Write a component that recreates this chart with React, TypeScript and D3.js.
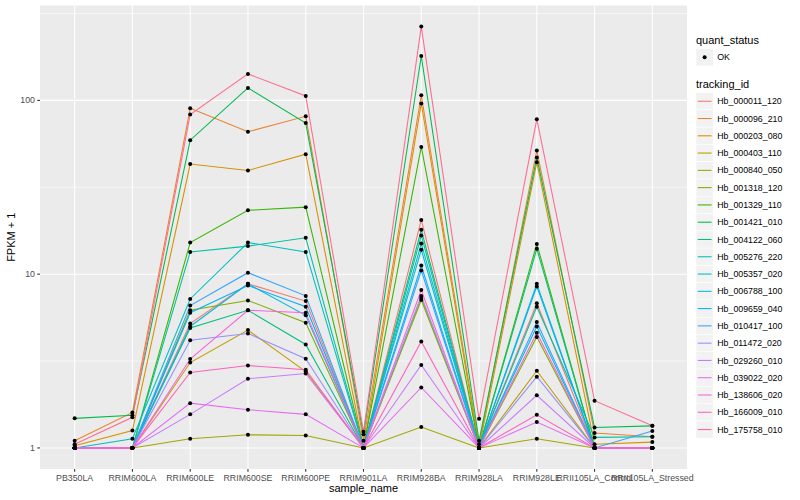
import { useEffect } from 'react';
import * as d3 from 'd3';

const samples = [
  'PB350LA', 'RRIM600LA', 'RRIM600LE', 'RRIM600SE', 'RRIM600PE', 'RRIM901LA',
  'RRIM928BA', 'RRIM928LA', 'RRIM928LE', 'RRII105LA_Control', 'RRII105LA_Stressed',
];

const trackingIds = [
  'Hb_000011_120', 'Hb_000096_210', 'Hb_000203_080', 'Hb_000403_110', 'Hb_000840_050',
  'Hb_001318_120', 'Hb_001329_110', 'Hb_001421_010', 'Hb_004122_060', 'Hb_005276_220',
  'Hb_005357_020', 'Hb_006788_100', 'Hb_009659_040', 'Hb_010417_100', 'Hb_011472_020',
  'Hb_029260_010', 'Hb_039022_020', 'Hb_138606_020', 'Hb_166009_010', 'Hb_175758_010',
];

// ggplot hue palette, 20 levels
const lineColors = [
  '#F8766D', '#EA8331', '#D89000', '#C09B00', '#A3A500', '#7CAE00', '#39B600',
  '#00BB4E', '#00BF7D', '#00C1A3', '#00BFC4', '#00BAE0', '#00B0F6', '#35A2FF',
  '#9590FF', '#C77CFF', '#E76BF3', '#FA62DB', '#FF62BC', '#FF6C91',
];

// FPKM + 1, one row per tracking_id, one column per sample
const fpkmPlusOne = [
  [1, 1, 5.2, 8.8, 7.0, 1, 20.5, 1, 6.8, 1, 1],
  [1.1, 1.6, 90, 66, 81, 1.1, 107, 1.05, 51.5, 1.22, 1.16],
  [1.03, 1.26, 43, 39.5, 49, 1.0, 96, 1.0, 44, 1.05, 1.08],
  [1, 1, 3.1, 4.77, 2.75, 1, 7.3, 1, 2.78, 1, 1],
  [1, 1, 1.13, 1.19, 1.18, 1, 1.32, 1, 1.13, 1, 1],
  [1, 1, 6.2, 7.06, 5.25, 1, 7.1, 1, 4.35, 1, 1],
  [1, 1, 15.2, 23.3, 24.3, 1, 54, 1, 14.9, 1, 1],
  [1.48, 1.54, 59, 118, 74, 1.2, 180, 1.1, 47, 1.31, 1.34],
  [1, 1, 4.9, 6.2, 3.94, 1, 18, 1, 14, 1, 1],
  [1, 1, 13.4, 14.5, 16.2, 1, 16.7, 1, 6.5, 1.15, 1.16],
  [1, 1.13, 7.2, 15.2, 13.4, 1, 15, 1, 8.8, 1, 1],
  [1, 1, 5.0, 8.8, 5.8, 1, 13.8, 1, 5.0, 1, 1],
  [1, 1, 6.0, 8.6, 6.5, 1, 11.2, 1, 8.5, 1, 1],
  [1, 1, 6.6, 10.2, 7.5, 1, 10.5, 1, 5.3, 1, 1.25],
  [1, 1, 4.17, 4.56, 3.26, 1, 7.5, 1, 2.57, 1, 1],
  [1, 1, 1.56, 2.5, 2.68, 1, 3.0, 1, 2.01, 1, 1],
  [1, 1, 1.81, 1.66, 1.56, 1, 2.23, 1, 1.41, 1, 1],
  [1, 1, 3.25, 6.2, 6.0, 1, 8.1, 1, 4.6, 1, 1],
  [1, 1, 2.72, 2.98, 2.82, 1, 4.1, 1, 1.55, 1, 1],
  [1.05, 1.5, 83, 142, 106, 1.24, 266, 1.47, 78, 1.87, 1.34],
];

const yBreaks = [1, 10, 100];
const yLabels = ['1', '10', '100'];
const statusLevels = ['OK'];

const FONT = '"Liberation Sans", Arial, Helvetica, sans-serif';

export default function App() {
  useEffect(() => {
    document.body.style.margin = '0';
  }, []);

  const width = 800;
  const height = 500;
  const panel = { left: 40, right: 687, top: 5.5, bottom: 469 };

  const x = d3.scalePoint<string>()
    .domain(samples)
    .range([panel.left, panel.right])
    .padding(0.6);

  const all = fpkmPlusOne.flat();
  const [lo, hi] = d3.extent(all) as [number, number];
  const l0 = Math.log10(lo);
  const l1 = Math.log10(hi);
  const pad = (l1 - l0) * 0.05;
  const y = d3.scaleLog()
    .domain([Math.pow(10, l0 - pad), Math.pow(10, l1 + pad)])
    .range([panel.bottom, panel.top]);

  // minor breaks at log midpoints, ggplot style
  const minorBreaks = [-0.5, 0.5, 1.5, 2.5]
    .map(e => Math.pow(10, e))
    .filter(v => y(v) >= panel.top && y(v) <= panel.bottom);

  const line = d3.line<number>()
    .x((_, i) => x(samples[i]) as number)
    .y(d => y(d));

  const legendX = 696;
  const keySize = 17.28;
  const keyTop = 92.6;

  return (
    <div style={{ position: 'absolute', left: 0, top: 0 }}>
      <svg width={width} height={height} style={{ display: 'block', fontFamily: FONT }}>
        <rect x={0} y={0} width={width} height={height} fill="#ffffff" />
        <rect
          x={panel.left}
          y={panel.top}
          width={panel.right - panel.left}
          height={panel.bottom - panel.top}
          fill="#EBEBEB"
        />
        {minorBreaks.map(b => (
          <line key={'mn' + b} x1={panel.left} x2={panel.right} y1={y(b)} y2={y(b)}
            stroke="#ffffff" strokeWidth={0.55} />
        ))}
        {yBreaks.map(b => (
          <line key={'mj' + b} x1={panel.left} x2={panel.right} y1={y(b)} y2={y(b)}
            stroke="#ffffff" strokeWidth={1.07} />
        ))}
        {samples.map(s => (
          <line key={'gx' + s} x1={x(s)} x2={x(s)} y1={panel.top} y2={panel.bottom}
            stroke="#ffffff" strokeWidth={1.07} />
        ))}

        {fpkmPlusOne.map((row, i) => (
          <path key={'ln' + i} d={line(row) || ''} fill="none" stroke={lineColors[i]}
            strokeWidth={1.07} />
        ))}
        {fpkmPlusOne.map((row, i) => (
          <g key={'pt' + i}>
            {row.map((v, j) => (
              <circle key={j} cx={x(samples[j])} cy={y(v)} r={2} fill="#000000" />
            ))}
          </g>
        ))}

        {/* y axis */}
        {yBreaks.map((b, i) => (
          <g key={'yt' + b}>
            <line x1={panel.left - 2.75} x2={panel.left} y1={y(b)} y2={y(b)}
              stroke="#333333" strokeWidth={1.07} />
            <text x={panel.left - 5} y={y(b)} dy="0.35em" textAnchor="end"
              fontSize={8.8} fill="#4D4D4D">{yLabels[i]}</text>
          </g>
        ))}
        <text transform={`translate(15,${(panel.top + panel.bottom) / 2}) rotate(-90)`}
          textAnchor="middle" fontSize={11} fill="#000000">FPKM + 1</text>

        {/* x axis */}
        {samples.map(s => (
          <g key={'xt' + s}>
            <line x1={x(s)} x2={x(s)} y1={panel.bottom} y2={panel.bottom + 2.75}
              stroke="#333333" strokeWidth={1.07} />
            <text x={x(s)} y={panel.bottom + 11.5} textAnchor="middle"
              fontSize={8.8} fill="#4D4D4D">{s}</text>
          </g>
        ))}
        <text x={(panel.left + panel.right) / 2} y={492} textAnchor="middle"
          fontSize={11} fill="#000000">sample_name</text>

        {/* legend: quant_status */}
        <text x={legendX} y={44} fontSize={11} fill="#000000">quant_status</text>
        {statusLevels.map((s, i) => (
          <g key={'qs' + s}>
            <rect x={legendX} y={48.7 + i * keySize} width={keySize} height={keySize}
              fill="#F2F2F2" stroke="#ffffff" strokeWidth={0.5} />
            <circle cx={legendX + keySize / 2} cy={48.7 + keySize / 2 + i * keySize} r={2}
              fill="#000000" />
            <text x={legendX + keySize + 4} y={48.7 + keySize / 2 + i * keySize} dy="0.35em"
              fontSize={8.8} fill="#000000">{s}</text>
          </g>
        ))}

        {/* legend: tracking_id */}
        <text x={legendX} y={88} fontSize={11} fill="#000000">tracking_id</text>
        {trackingIds.map((id, i) => {
          const top = keyTop + i * keySize;
          return (
            <g key={'tk' + id}>
              <rect x={legendX} y={top} width={keySize} height={keySize}
                fill="#F2F2F2" stroke="#ffffff" strokeWidth={0.5} />
              <line x1={legendX + 1.7} x2={legendX + keySize - 1.7}
                y1={top + keySize / 2} y2={top + keySize / 2}
                stroke={lineColors[i]} strokeWidth={1.07} />
              <text x={legendX + keySize + 4} y={top + keySize / 2} dy="0.35em"
                fontSize={8.8} fill="#000000">{id}</text>
            </g>
          );
        })}
      </svg>
    </div>
  );
}
